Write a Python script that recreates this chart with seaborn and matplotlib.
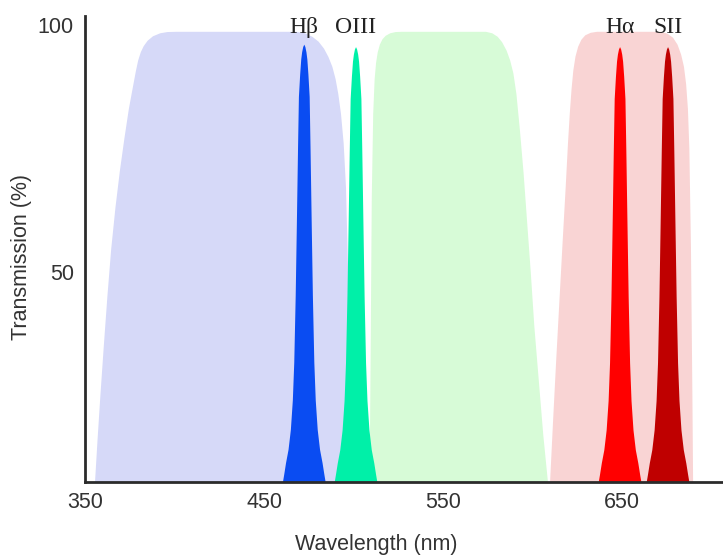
import numpy as np
import matplotlib
matplotlib.use("Agg")
import matplotlib.pyplot as plt
import seaborn as sns

# ---- data ----
# broad filter passbands: (wavelength nm, transmission %) outlines
blue_wl = [354.5, 355.6, 357.0, 358.6, 360.5, 362.5, 364.6, 367.0, 369.5, 372.0, 374.5, 376.8, 378.4, 379.7,
           381.2, 382.8, 385, 388, 392, 396, 401,
           468, 473, 477, 480.5, 483.5, 486, 488.2, 490, 491.5, 493, 494.5, 495.8, 497, 497.8, 498.3, 498.5]
blue_T = [0, 7.5, 16, 25, 35, 45, 54.5, 63, 70.5, 77, 83, 87.5, 90.6, 92.8,
          94.5, 95.7, 96.8, 97.7, 98.3, 98.55, 98.6,
          98.6, 98.3, 97.6, 96.6, 95.2, 93.5, 91.5, 89, 86, 82, 76, 67, 50, 25, 7.5, 0]

green_wl = [508.5, 509, 509.6, 510.2, 511, 511.8, 512.6, 513.5, 514.7, 516.2, 518, 520.5, 523.5, 527,
            574, 577.5, 580.5, 583, 585.5, 587.5, 589.3, 591, 593, 595, 597, 599, 601, 603.5, 606, 608.6, 609.5]
green_T = [0, 7.5, 35, 65, 82, 89, 92.3, 94.4, 96, 97.1, 97.8, 98.3, 98.55, 98.6,
           98.6, 98.3, 97.6, 96.5, 94.8, 92.8, 90.2, 86, 78.5, 70, 60, 50, 39, 28, 17, 7.5, 0]

pink_wl = [609, 609.8, 611.5, 613.2, 615, 616.8, 618.5, 619.8, 620.8, 621.8, 622.8, 624, 625.5, 627.3,
           629.5, 632.5, 636,
           672, 675.5, 678.5, 681, 683, 684.6, 685.8, 686.8, 687.6, 688.5, 689.3, 689.7, 690]
pink_T = [0, 7.5, 20, 32, 44, 56, 67, 76, 82, 87, 90.8, 93.6, 95.6, 97,
          97.9, 98.4, 98.6,
          98.6, 98.2, 97.4, 96, 94, 91.5, 88, 83, 75, 55, 25, 7.5, 0]

band_colors = ["#d6d9f8", "#d7fbd7", "#f9d4d4"]

# narrow emission-line filters
line_names = ["H\u03b2", "OIII", "H\u03b1", "SII"]
line_centers = [472.5, 501.4, 648.9, 675.7]
line_peaks = [96.0, 95.5, 95.5, 95.5]
line_colors = ["#0a4cf2", "#00f0a8", "#ff0000", "#bf0000"]
# measured half-width (nm) of a line profile at transmission levels (fraction of peak)
profile_level = [0.0, 0.052, 0.076, 0.094, 0.118, 0.146, 0.188, 0.25, 0.33, 0.47, 0.61,
                 0.78, 0.89, 0.937, 0.969, 0.984, 0.995, 1.0]
profile_halfw = [16.0, 13.5, 12.0, 11.2, 10.2, 8.8, 7.5, 6.4, 5.6, 4.8, 4.2,
                 3.5, 3.0, 2.3, 1.7, 1.2, 0.6, 0.0]

x_ticks = [350, 450, 550, 650]
y_ticks = [50, 100]

# ---- figure ----
sns.set_theme(style="white")
plt.rcParams["font.family"] = ["Liberation Sans", "DejaVu Sans"]

fig = plt.figure(figsize=(7.23, 5.59), dpi=100)
ax = fig.add_axes([85 / 723, 77 / 559, 638 / 723, 466 / 559])

for wl, T, c in zip([blue_wl, green_wl, pink_wl], [blue_T, green_T, pink_T], band_colors):
    ax.fill(wl, T, color=c, lw=0, zorder=1, antialiased=True)

lev = np.array(profile_level)
hw = np.array(profile_halfw)
for c0, pk, col in zip(line_centers, line_peaks, line_colors):
    xs = np.concatenate([c0 - hw, (c0 + hw)[::-1]])
    ys = np.concatenate([lev * pk, (lev * pk)[::-1]])
    ax.fill(xs, ys, color=col, lw=0, zorder=2)

for name, c0 in zip(line_names, line_centers):
    ax.text(c0, 99.5, name, ha="center", va="center", fontsize=17,
            family=["Liberation Serif", "DejaVu Serif"], color="#222222", clip_on=False)

ax.set_xlim(350, 706.4)
ax.set_ylim(7.5, 101.8)
ax.set_xticks(x_ticks)
ax.set_xticklabels([str(t) for t in x_ticks])
ax.set_yticks(y_ticks)
ax.set_yticklabels([str(t) for t in y_ticks])
ax.tick_params(axis="both", length=0, labelsize=15.5, colors="#333333")
ax.tick_params(axis="x", pad=7)
ax.tick_params(axis="y", pad=8)

sns.despine(ax=ax)
for s in ["left", "bottom"]:
    ax.spines[s].set_color("#2b2b2b")
    ax.spines[s].set_linewidth(2.0)
    ax.spines[s].set_zorder(5)

ax.set_xlabel("Wavelength (nm)", fontsize=15.5, color="#333333")
ax.xaxis.set_label_coords(0.457, -0.135)
ax.xaxis.label.set_verticalalignment("center")
ax.set_ylabel("Transmission (%)", fontsize=15.5, color="#333333")
ax.yaxis.set_label_coords(-0.099, 0.483)
ax.yaxis.label.set_verticalalignment("center")

fig.savefig("out.png", dpi=100)
